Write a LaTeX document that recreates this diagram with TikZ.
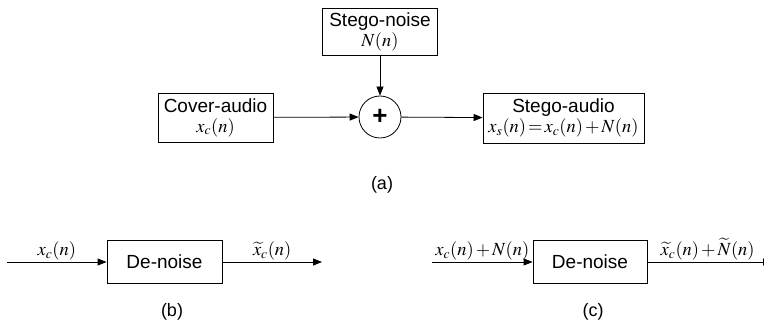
\documentclass[tikz,border=0pt]{standalone}
\usepackage{mathptmx}
\usepackage[no-math]{fontspec}
\setmainfont{Liberation Sans}
\usetikzlibrary{arrows.meta,positioning}
\newcommand{\eqtxt}[1]{{\fontsize{18.5}{19}\selectfont$#1$}}

\begin{document}
\begin{tikzpicture}[x=1pt, y=1pt,
    blk/.style={draw, line width=0.8pt, align=center, inner sep=1pt, font=\fontsize{19}{20}\selectfont},
    sig/.style={line width=0.8pt, -{Triangle[length=9pt,width=7pt]}},
    lbl/.style={font=\fontsize{18}{19}\selectfont, inner sep=1pt}]
  \useasboundingbox (0,0) rectangle (764,324);

  % (a) embedding
  \node[blk, minimum width=115pt, minimum height=47pt] (noise) at (380,292) {Stego-noise\\\eqtxt{N(n)}};
  \node[draw, circle, line width=0.8pt, minimum size=42pt, inner sep=0pt, font=\fontsize{26}{26}\selectfont\bfseries] (plus) at (380,207) {+};
  \node[blk, minimum width=115pt, minimum height=49pt] (cover) at (215.5,206.5) {Cover-audio\\\eqtxt{x_c(n)}};
  \node[blk, minimum width=161pt, minimum height=50pt] (stego) at (563.5,206) {Stego-audio\\\eqtxt{x_s(n)\,{=}\,x_c(n)\,{+}\,N(n)}};
  \node[lbl] (capa) at (382,139) {(a)};
  \draw[sig] (noise) -- (plus);
  \draw[sig] (cover) -- (plus);
  \draw[sig] (plus) -- (stego);

  % (b) de-noise of cover
  \coordinate (bin) at (7,62);
  \node[blk, minimum width=115pt, minimum height=43pt] (dnb) at (164.5,62) {De-noise};
  \coordinate (bout) at (322,62);
  \node[lbl] (capb) at (172,12) {(b)};
  \draw[sig] (bin) -- node[lbl, above] {\eqtxt{x_c(n)}} (dnb);
  \draw[sig] (dnb) -- node[lbl, above] {\eqtxt{\widetilde{x}_c(n)}} (bout);

  % (c) de-noise of stego
  \coordinate (cin) at (432,62);
  \node[blk, minimum width=114pt, minimum height=43pt] (dnc) at (590,62) {De-noise};
  \coordinate (cout) at (772,62);
  \node[lbl] (capc) at (593,12) {(c)};
  \draw[sig] (cin) -- node[lbl, above] {\eqtxt{x_c(n)\,{+}\,N(n)}} (dnc);
  \draw[sig] (dnc) -- node[lbl, above, xshift=-2pt] {\eqtxt{\widetilde{x}_c(n)\,{+}\,\widetilde{N}(n)}} (cout);
\end{tikzpicture}
\end{document}
